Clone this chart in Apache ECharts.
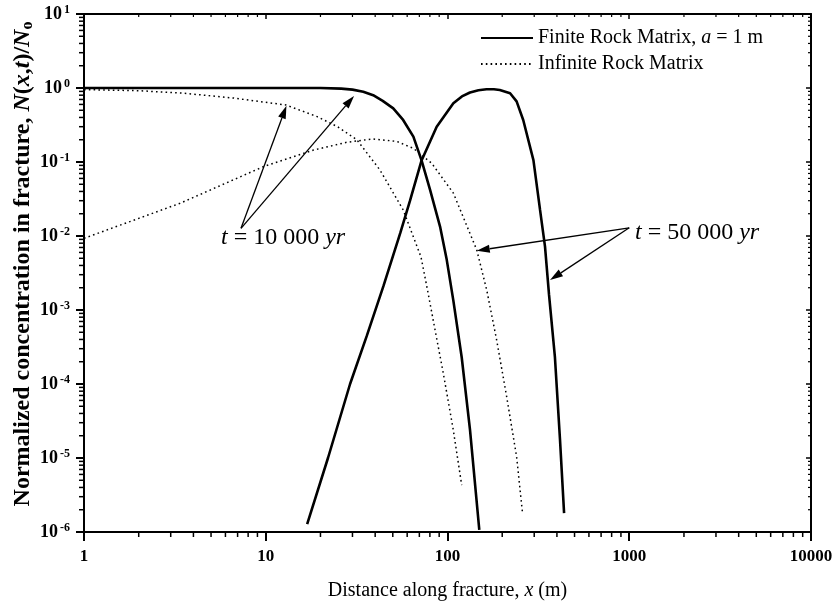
<!DOCTYPE html>
<html>
<head>
<meta charset="utf-8">
<script src="https://cdn.jsdelivr.net/npm/echarts@6/dist/echarts.min.js"></script>
<style>
  html, body { margin: 0; padding: 0; background: #fff; }
  #chart { width: 836px; height: 604px; }
</style>
</head>
<body>
<div id="chart"></div>
<script>
  // finite rock matrix (a = 1 m), t = 10 000 yr
  var finite10X = [1, 5, 10, 20, 26, 30, 34.4, 39, 44, 50.3, 57, 64.9, 72, 80.2, 91, 99, 107.6, 119.7, 133, 149.6];
  var finite10Y = [1, 1, 1, 1, 0.98, 0.95, 0.89, 0.80, 0.67, 0.53, 0.37, 0.22, 0.105, 0.042, 0.0134, 0.0048, 0.00136, 2.3e-4, 2.4e-5, 1.07e-6];
  // finite rock matrix, t = 50 000 yr
  var finite50X = [16.9, 22, 29.1, 36, 44.4, 55, 62.2, 72, 87.2, 107.7, 120, 133, 148, 164, 180, 194, 221, 240, 261, 297, 323, 344, 362, 390, 416, 438];
  var finite50Y = [1.28e-6, 1.0e-5, 1.0e-4, 4.5e-4, 0.0021, 0.011, 0.03, 0.105, 0.3, 0.62, 0.77, 0.87, 0.93, 0.96, 0.96, 0.94, 0.85, 0.66, 0.37, 0.106, 0.0225, 0.0072, 0.0016, 2.3e-4, 1.75e-5, 1.8e-6];
  // infinite rock matrix, t = 10 000 yr
  var infinite10X = [1, 2, 3.55, 6.69, 12.9, 19.2, 24.8, 31.7, 42.5, 57.1, 71.5, 77.6, 84.8, 94.8, 107.6, 119.7];
  var infinite10Y = [0.95, 0.92, 0.85, 0.73, 0.59, 0.41, 0.30, 0.2, 0.078, 0.0224, 0.0052, 0.00187, 5.9e-4, 1.4e-4, 2.4e-5, 4.3e-6];
  // infinite rock matrix, t = 50 000 yr
  var infinite50X = [1, 3.38, 9.7, 18.3, 28, 38.9, 52.5, 64.9, 81.9, 107.7, 144.8, 164.3, 186.5, 211.7, 240, 259];
  var infinite50Y = [0.0093, 0.0277, 0.0865, 0.145, 0.185, 0.205, 0.19, 0.153, 0.096, 0.038, 0.0065, 0.00187, 3.9e-4, 6.7e-5, 1.04e-5, 1.75e-6];

  // annotation arrows: [fromX, fromY, toX, toY]
  var arrows = [
    [7.31, 0.0127, 13.0, 0.576],
    [7.31, 0.0127, 30.6, 0.78],
    [1000, 0.0129, 144.8, 0.00633],
    [1000, 0.0129, 366.5, 0.00254]
  ];

  var xMin = 1, xMax = 10000;
  var yMin = 1e-6, yMax = 10;
  var FONT = 'Liberation Serif';

  // minor ticks (2..9 of each decade)
  var minorX = [], minorY = [];
  for (var d = xMin; d < xMax; d *= 10) for (var m = 2; m <= 9; m++) minorX.push([d * m, yMin]);
  for (var e = -6; e < 1; e++) for (var k = 2; k <= 9; k++) minorY.push([xMin, k * Math.pow(10, e)]);

  function pairs(xs, ys) {
    return xs.map(function (x, i) { return [x, ys[i]]; });
  }

  var chart = echarts.init(document.getElementById('chart'));

  var axisLine = { show: true, lineStyle: { color: '#000', width: 2 } };
  var solid = { color: '#000', width: 2.6, type: 'solid' };
  var dotted = { color: '#000', width: 1.5, type: [1.6, 3.2] };

  function curve(name, style, xs, ys) {
    return {
      name: name, type: 'line', symbol: 'none', showSymbol: false,
      lineStyle: style, itemStyle: { color: '#000' },
      data: pairs(xs, ys)
    };
  }

  chart.setOption({
    animation: false,
    backgroundColor: '#fff',
    grid: { left: 84, right: 25, top: 14, bottom: 72, outerBoundsMode: 'none', containLabel: false },
    legend: {
      left: 475, top: 23, orient: 'vertical',
      itemWidth: 52, itemHeight: 14, itemGap: 6, itemTextGap: 4,
      itemStyle: { opacity: 0 },
      data: ['Finite Rock Matrix', 'Infinite Rock Matrix'],
      formatter: function (name) {
        return name === 'Finite Rock Matrix'
          ? '{n|Finite Rock Matrix, }{i|a}{n| = 1 m}'
          : '{n|Infinite Rock Matrix}';
      },
      textStyle: {
        fontFamily: FONT, fontSize: 20, color: '#000',
        rich: {
          n: { fontFamily: FONT, fontSize: 20, color: '#000' },
          i: { fontFamily: FONT, fontSize: 20, color: '#000', fontStyle: 'italic' }
        }
      }
    },
    xAxis: [{
      type: 'log', logBase: 10, min: xMin, max: xMax, position: 'bottom',
      axisLine: axisLine,
      axisTick: { length: 9, lineStyle: { color: '#000', width: 2 } },
      axisLabel: {
        margin: 16, color: '#000', fontFamily: FONT, fontSize: 17, fontWeight: 'bold',
        formatter: function (v) { return String(Math.round(v)); }
      },
      splitLine: { show: false },
      name: '{n|Distance along fracture, }{i|x}{n| (m)}',
      nameLocation: 'middle', nameGap: 49,
      nameTextStyle: {
        rich: {
          n: { fontFamily: FONT, fontSize: 20, color: '#000' },
          i: { fontFamily: FONT, fontSize: 20, color: '#000', fontStyle: 'italic' }
        }
      }
    }, {
      type: 'log', logBase: 10, min: xMin, max: xMax, position: 'top',
      axisLine: axisLine,
      axisTick: { inside: true, length: 5, lineStyle: { color: '#000', width: 1.5 } },
      axisLabel: { show: false },
      splitLine: { show: false }
    }],
    yAxis: [{
      type: 'log', logBase: 10, min: yMin, max: yMax, position: 'left',
      axisLine: axisLine,
      axisTick: { length: 8, lineStyle: { color: '#000', width: 2 } },
      axisLabel: {
        margin: 14, color: '#000',
        formatter: function (v) {
          return '{b|10}{s|' + Math.round(Math.log10(v)) + '}';
        },
        rich: {
          b: { fontFamily: FONT, fontSize: 18, fontWeight: 'bold', color: '#000', lineHeight: 20 },
          s: { fontFamily: FONT, fontSize: 12, fontWeight: 'bold', color: '#000', verticalAlign: 'top', lineHeight: 12, padding: [0, 0, 0, 2] }
        }
      },
      splitLine: { show: false },
      name: '{b|Normalized concentration in fracture, }{i|N}{b|(}{i|x}{b|,}{i|t}{b|)/}{i|N}{s|o}',
      nameLocation: 'middle', nameGap: 48, nameMoveOverlap: false,
      nameTextStyle: {
        padding: [0, 0, 0, 18],
        rich: {
          b: { fontFamily: FONT, fontSize: 24, fontWeight: 'bold', color: '#000', lineHeight: 26 },
          i: { fontFamily: FONT, fontSize: 24, fontWeight: 'bold', fontStyle: 'italic', color: '#000', lineHeight: 26 },
          s: { fontFamily: FONT, fontSize: 16, fontWeight: 'bold', color: '#000', verticalAlign: 'bottom', lineHeight: 16 }
        }
      }
    }, {
      type: 'log', logBase: 10, min: yMin, max: yMax, position: 'right',
      axisLine: axisLine,
      axisTick: { inside: true, length: 5, lineStyle: { color: '#000', width: 1.5 } },
      axisLabel: { show: false },
      splitLine: { show: false }
    }],
    graphic: [{
      type: 'text', left: 221, top: 226,
      style: {
        text: '{i|t}{n| = 10 000 }{i|yr}',
        rich: {
          n: { fontFamily: FONT, fontSize: 24, fill: '#000' },
          i: { fontFamily: FONT, fontSize: 24, fill: '#000', fontStyle: 'italic' }
        }
      }
    }, {
      type: 'text', left: 635, top: 221,
      style: {
        text: '{i|t}{n| = 50 000 }{i|yr}',
        rich: {
          n: { fontFamily: FONT, fontSize: 24, fill: '#000' },
          i: { fontFamily: FONT, fontSize: 24, fill: '#000', fontStyle: 'italic' }
        }
      }
    }],
    series: [
      curve('Finite Rock Matrix', solid, finite10X, finite10Y),
      curve('Finite Rock Matrix', solid, finite50X, finite50Y),
      curve('Infinite Rock Matrix', dotted, infinite10X, infinite10Y),
      curve('Infinite Rock Matrix', dotted, infinite50X, infinite50Y),
      {
        // minor ticks on bottom (outside) and top (inside)
        type: 'custom', silent: true, clip: false, data: minorX,
        renderItem: function (params, api) {
          var b = api.coord([api.value(0), yMin]);
          var t = api.coord([api.value(0), yMax]);
          return {
            type: 'group', children: [
              { type: 'line', shape: { x1: b[0], y1: b[1], x2: b[0], y2: b[1] + 5 }, style: { stroke: '#000', lineWidth: 1.5 } },
              { type: 'line', shape: { x1: t[0], y1: t[1], x2: t[0], y2: t[1] + 3 }, style: { stroke: '#000', lineWidth: 1.2 } }
            ]
          };
        }
      },
      {
        // minor ticks on left (outside) and right (inside)
        type: 'custom', silent: true, clip: false, data: minorY,
        renderItem: function (params, api) {
          var l = api.coord([xMin, api.value(1)]);
          var r = api.coord([xMax, api.value(1)]);
          return {
            type: 'group', children: [
              { type: 'line', shape: { x1: l[0] - 5, y1: l[1], x2: l[0], y2: l[1] }, style: { stroke: '#000', lineWidth: 1.5 } },
              { type: 'line', shape: { x1: r[0] - 3, y1: r[1], x2: r[0], y2: r[1] }, style: { stroke: '#000', lineWidth: 1.2 } }
            ]
          };
        }
      },
      {
        // annotation arrows
        type: 'custom', silent: true, clip: false, data: arrows,
        encode: { x: [0, 2], y: [1, 3] },
        renderItem: function (params, api) {
          var a = api.coord([api.value(0), api.value(1)]);
          var b = api.coord([api.value(2), api.value(3)]);
          var ang = Math.atan2(b[1] - a[1], b[0] - a[0]);
          var hl = 13, hw = 4;
          var bx = b[0] - hl * Math.cos(ang), by = b[1] - hl * Math.sin(ang);
          var px = -Math.sin(ang) * hw, py = Math.cos(ang) * hw;
          return {
            type: 'group', children: [
              { type: 'line', shape: { x1: a[0], y1: a[1], x2: bx, y2: by }, style: { stroke: '#000', lineWidth: 1.3 } },
              { type: 'polygon', shape: { points: [[b[0], b[1]], [bx + px, by + py], [bx - px, by - py]] }, style: { fill: '#000' } }
            ]
          };
        }
      }
    ]
  });
</script>
</body>
</html>
